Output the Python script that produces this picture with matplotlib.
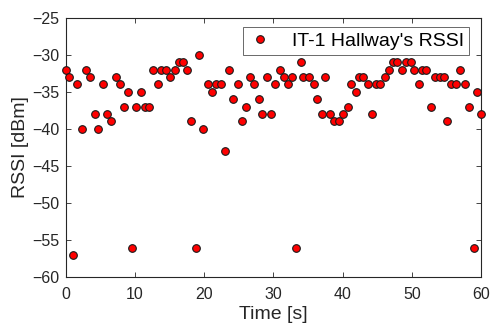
import matplotlib
matplotlib.use("Agg")
import matplotlib.pyplot as plt

time_s = [0.0, 0.5, 1.1, 1.7, 2.3, 2.9, 3.5, 4.2, 4.7, 5.4, 6.0, 6.6, 7.2, 7.9, 8.4, 9.0,
          9.6, 10.2, 10.9, 11.4, 12.1, 12.6, 13.3, 13.8, 14.5, 15.1, 15.8, 16.3, 17.0, 17.5,
          18.1, 18.8, 19.3, 19.9, 20.5, 21.2, 21.7, 22.4, 23.0, 23.6, 24.2, 24.9, 25.4, 26.0,
          26.6, 27.2, 27.9, 28.4, 29.1, 29.6, 30.3, 30.9, 31.5, 32.1, 32.7, 33.3, 34.0, 34.3,
          35.1, 35.8, 36.3, 37.0, 37.5, 38.2, 38.7, 39.4, 40.0, 40.7, 41.2, 41.9, 42.4, 43.0,
          43.6, 44.2, 44.8, 45.4, 46.1, 46.7, 47.3, 47.9, 48.6, 49.1, 49.8, 50.3, 51.0, 51.5,
          52.1, 52.7, 53.3, 54.0, 54.6, 55.1, 55.7, 56.4, 57.0, 57.7, 58.2, 58.9, 59.4, 60.0]
rssi_dbm = [-32, -33, -57, -34, -40, -32, -33, -38, -40, -34, -38, -39, -33, -34, -37, -35,
            -56, -37, -35, -37, -37, -32, -34, -32, -32, -33, -32, -31, -31, -32,
            -39, -56, -30, -40, -34, -35, -34, -34, -43, -32, -36, -34, -39, -37,
            -33, -34, -36, -38, -33, -38, -34, -32, -33, -34, -33, -56, -31, -33,
            -33, -34, -36, -38, -33, -38, -39, -39, -38, -37, -34, -35, -33, -33,
            -34, -38, -34, -34, -33, -32, -31, -31, -32, -31, -31, -32, -34, -32,
            -32, -37, -33, -33, -33, -39, -34, -34, -32, -34, -37, -56, -35, -38]

x_ticks = [0, 10, 20, 30, 40, 50, 60]
y_ticks = [-60, -55, -50, -45, -40, -35, -30, -25]
series_label = "IT-1 Hallway's RSSI"

plt.rcParams['font.family'] = ['Liberation Sans', 'DejaVu Sans']

fig = plt.figure(figsize=(4.9, 3.31), dpi=100)
ax = fig.add_axes([0.134, 0.162, 0.848, 0.785])

ax.plot(time_s, rssi_dbm, linestyle='none', marker='o', markersize=5.5,
        markerfacecolor='#ff0000', markeredgecolor='#1a1a1a', markeredgewidth=0.8,
        label=series_label, clip_on=False, zorder=3)

ax.set_xlim(0, 60)
ax.set_ylim(-60, -25)
ax.set_xticks(x_ticks)
ax.set_yticks(y_ticks)
ax.tick_params(direction='in', top=True, right=True, labelsize=11.5,
               colors='#262626', length=3.5, width=0.6)
ax.tick_params(axis='x', pad=7)
ax.tick_params(axis='y', pad=4.5)
for sp in ax.spines.values():
    sp.set_color('#262626')
    sp.set_linewidth(0.8)

ax.set_xlabel('Time [s]', fontsize=14, color='#262626', labelpad=3)
ax.set_ylabel('RSSI [dBm]', fontsize=14, color='#262626', labelpad=2)

leg = ax.legend(loc='upper right', bbox_to_anchor=(0.971, 0.962), borderaxespad=0,
                fontsize=14, frameon=True, fancybox=False, handlelength=1.3,
                handletextpad=1.0, borderpad=0.25, markerscale=1.0)
leg.get_frame().set_edgecolor('#262626')
leg.get_frame().set_linewidth(0.6)

fig.savefig('out.png', dpi=100)
